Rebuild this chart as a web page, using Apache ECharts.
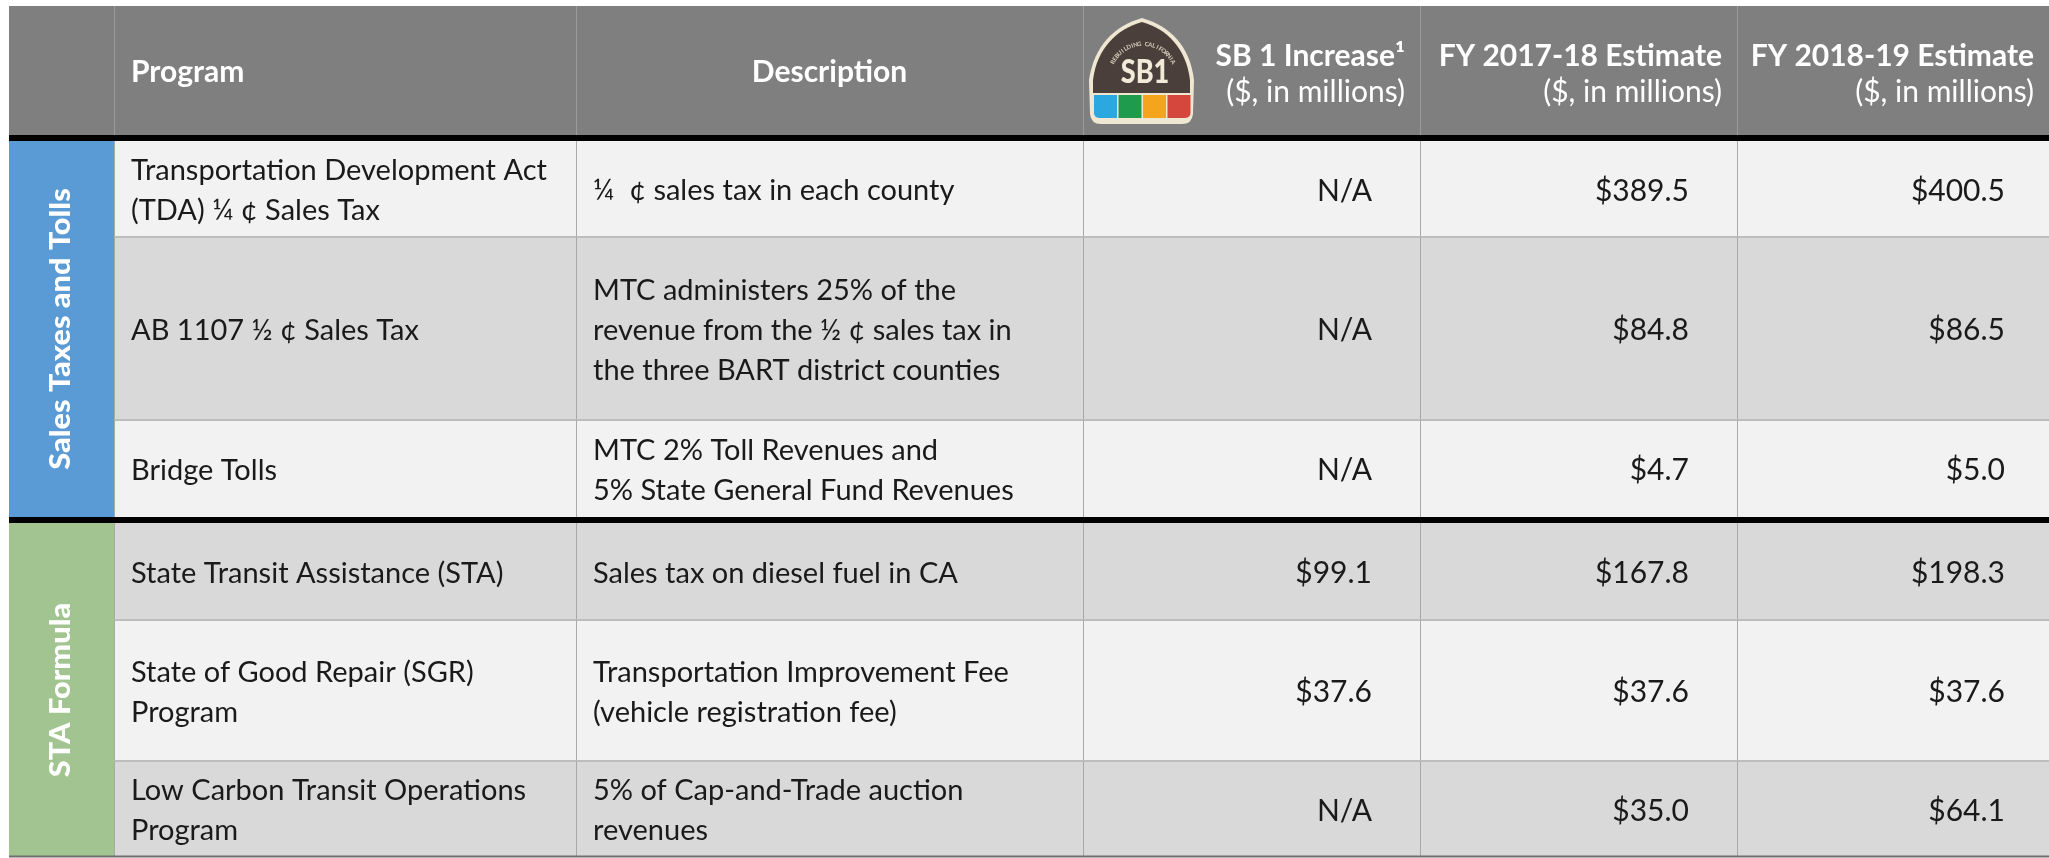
<!DOCTYPE html>
<html>
<head>
<meta charset="UTF-8">
<title>Transit funding programs</title>
<script src="https://cdn.jsdelivr.net/npm/echarts@6.0.0/dist/echarts.min.js"></script>
<style>
  html, body { margin: 0; padding: 0; background: #fff; }
  #table { width: 2049px; height: 858px; }
</style>
</head>
<body>
<div id="table"></div>
<script>
// table contents
var headers = ['', 'Program', 'Description', 'SB 1 Increase\u00b9', 'FY 2017-18 Estimate', 'FY 2018-19 Estimate'];
var headerUnits = ['', '', '', '($, in millions)', '($, in millions)', '($, in millions)'];
var groups = ['Sales Taxes and Tolls', 'STA Formula'];
var rowGroup = [0, 0, 0, 1, 1, 1];
var programs = [
  'Transportation Development Act\n(TDA) \u00bc \u00a2 Sales Tax',
  'AB 1107 \u00bd \u00a2 Sales Tax',
  'Bridge Tolls',
  'State Transit Assistance (STA)',
  'State of Good Repair (SGR)\nProgram',
  'Low Carbon Transit Operations\nProgram'
];
var descriptions = [
  '\u00bc  \u00a2 sales tax in each county',
  'MTC administers 25% of the\nrevenue from the \u00bd \u00a2 sales tax in\nthe three BART district counties',
  'MTC 2% Toll Revenues and\n5% State General Fund Revenues',
  'Sales tax on diesel fuel in CA',
  'Transportation Improvement Fee\n(vehicle registration fee)',
  '5% of Cap-and-Trade auction\nrevenues'
];
var sb1Increase = [null, null, null, 99.1, 37.6, null];
var fy1718 = [389.5, 84.8, 4.7, 167.8, 37.6, 35.0];
var fy1819 = [400.5, 86.5, 5.0, 198.3, 37.6, 64.1];

// layout, in pixels of the 2049 x 858 page
var colEdges = [9, 114, 576, 1083, 1420, 1737, 2049];
var headTop = 6, headBottom = 135;
var rowTop = [141, 237, 420, 523, 620, 761];
var rowBottom = [237, 420, 517, 620, 761, 857];
var valueRightPad = [0, 0, 0, 48, 48, 44];
var groupColors = ['#5b9bd5', '#a1c490'];
var rowFill = ['#f2f2f2', '#d9d9d9'];
var FONT = 'Lato, "Noto Sans", sans-serif';

function money(v) {
  return v == null ? 'N/A' : '$' + v.toFixed(1);
}

var chart = echarts.init(document.getElementById('table'));

function box(api, x0, y0, x1, y1) {
  var a = api.coord([x0, y0]);
  var b = api.coord([x1, y1]);
  return { x: a[0], y: a[1], width: b[0] - a[0], height: b[1] - a[1] };
}

function logo(x, y) {
  // SB1 shield drawn in the header cell
  var sq = ['#2aa8df', '#1e9b4c', '#f5a41d', '#d5473d'];
  var kids = [
    { type: 'path', shape: { pathData: 'M54 0C82 8 102 28 106 62L105 96Q104 106 94 106L13 106Q3 106 2 96L1 62C6 28 26 8 54 0Z' },
      style: { fill: '#efe7d2' } },
    { type: 'path', shape: { pathData: 'M54 4C79 11 98 30 102 62L102 75L5 75L5 62C9 30 29 11 54 4Z' },
      style: { fill: '#4a3f3a' } },
    { type: 'text', x: 57, y: 54, scaleX: 0.82,
      style: { text: 'SB1', x: 0, y: 0, align: 'center', verticalAlign: 'middle',
        fontFamily: FONT, fontWeight: 900, fontSize: 33, fill: '#f1ead8' } }
  ];
  var word = 'REBUILDING CALIFORNIA';
  var cx = 55, cy = 60, R = 34;
  for (var k = 0; k < word.length; k++) {
    var th = (-62 + 124 * k / (word.length - 1)) * Math.PI / 180;
    kids.push({ type: 'text', x: cx + R * Math.sin(th), y: cy - R * Math.cos(th), rotation: -th,
      style: { text: word[k], x: 0, y: 0, align: 'center', verticalAlign: 'middle',
        fontFamily: FONT, fontWeight: 'bold', fontSize: 6, fill: '#d9d0bd' } });
  }
  for (var i = 0; i < 4; i++) {
    kids.push({ type: 'rect', shape: { x: 6 + i * 24.5, y: 77, width: 23, height: 23,
      r: i == 0 ? [0, 0, 0, 5] : (i == 3 ? [0, 0, 5, 0] : 0) },
      style: { fill: sq[i] } });
  }
  return { type: 'group', x: x, y: y, children: kids };
}

function renderHeader(params, api) {
  var c = api.value(0);
  var r = box(api, colEdges[c], headTop, colEdges[c + 1], headBottom);
  var kids = [{ type: 'rect', shape: r, style: { fill: '#7f7f7f' } }];
  if (c > 0) {
    kids.push({ type: 'line', shape: { x1: r.x + 0.5, y1: r.y, x2: r.x + 0.5, y2: r.y + r.height },
      style: { stroke: '#9b9b9b', lineWidth: 1 } });
  }
  var base = { fontFamily: FONT, fill: '#ffffff', verticalAlign: 'middle' };
  if (c == 1) {
    kids.push({ type: 'text', style: Object.assign({ text: headers[c], x: r.x + 17, y: r.y + 66, align: 'left',
      fontSize: 30, fontWeight: 'bold' }, base) });
  } else if (c == 2) {
    kids.push({ type: 'text', style: Object.assign({ text: headers[c], x: r.x + r.width / 2, y: r.y + 66, align: 'center',
      fontSize: 30, fontWeight: 'bold' }, base) });
  } else if (c >= 3) {
    var rx = r.x + r.width - 15;
    kids.push({ type: 'text', style: Object.assign({ text: headers[c], x: rx, y: r.y + 50, align: 'right',
      fontSize: 30, fontWeight: 'bold' }, base) });
    kids.push({ type: 'text', style: Object.assign({ text: headerUnits[c], x: rx, y: r.y + 86, align: 'right',
      fontSize: 30 }, base) });
    if (c == 3) kids.push(logo(r.x + 5, r.y + 12));
  }
  return { type: 'group', children: kids };
}

function renderRow(params, api) {
  var i = api.value(0);
  var kids = [];
  var texts = [null, programs[i], descriptions[i], money(sb1Increase[i]), money(fy1718[i]), money(fy1819[i])];
  for (var c = 1; c < 6; c++) {
    var r = box(api, colEdges[c], rowTop[i], colEdges[c + 1], rowBottom[i]);
    kids.push({ type: 'rect', shape: r, style: { fill: rowFill[i % 2] } });
    var left = c <= 2;
    kids.push({ type: 'text', style: {
      text: texts[c],
      x: left ? r.x + 17 : r.x + r.width - valueRightPad[c],
      y: r.y + r.height / 2 + 2,
      align: left ? 'left' : 'right', verticalAlign: 'middle',
      fontFamily: FONT, fontSize: left ? 29 : 30, lineHeight: 40, fill: '#1a1a1a'
    } });
  }
  return { type: 'group', children: kids };
}

function renderGroup(params, api) {
  var g = api.value(0);
  var first = rowGroup.indexOf(g), last = rowGroup.lastIndexOf(g);
  var r = box(api, colEdges[0], rowTop[first], colEdges[1], rowBottom[last]);
  return { type: 'group', children: [
    { type: 'rect', shape: r, style: { fill: groupColors[g] } },
    { type: 'text', x: r.x + r.width / 2 - 1, y: r.y + r.height / 2, rotation: Math.PI / 2, scaleX: 1.06,
      style: { text: groups[g], x: 0, y: 0, align: 'center', verticalAlign: 'middle',
        fontFamily: FONT, fontWeight: 900, fontSize: 29, fill: '#ffffff' } }
  ] };
}

function renderLines(params, api) {
  var i = api.value(0);
  var kids = [];
  for (var c = 1; c < 6; c++) {
    var a = api.coord([colEdges[c], rowTop[i]]);
    var b = api.coord([colEdges[c], rowBottom[i]]);
    kids.push({ type: 'line', shape: { x1: a[0] + 0.5, y1: a[1], x2: b[0] + 0.5, y2: b[1] },
      style: { stroke: '#a9a9a9', lineWidth: 1 } });
  }
  var L = api.coord([colEdges[0], 0])[0], R = api.coord([colEdges[6], 0])[0];
  if (i == 0 || rowGroup[i] != rowGroup[i - 1]) {
    var t = api.coord([0, rowTop[i]])[1];
    kids.push({ type: 'line', shape: { x1: L, y1: t - 3, x2: R, y2: t - 3 }, style: { stroke: '#000000', lineWidth: 6 } });
  }
  var y = api.coord([0, rowBottom[i]])[1];
  if (i < rowGroup.length - 1 && rowGroup[i] == rowGroup[i + 1]) {
    var l = api.coord([colEdges[1], 0])[0];
    kids.push({ type: 'line', shape: { x1: l, y1: y, x2: R, y2: y }, style: { stroke: '#bdbdbd', lineWidth: 2 } });
  }
  if (i == rowGroup.length - 1) {
    kids.push({ type: 'line', shape: { x1: L, y1: y - 0.5, x2: R, y2: y - 0.5 }, style: { stroke: '#6f6f6f', lineWidth: 2 } });
  }
  return { type: 'group', children: kids };
}

var option = {
  animation: false,
  grid: { left: 0, right: 0, top: 0, bottom: 0 },
  xAxis: { type: 'value', min: 0, max: 2049, show: false },
  yAxis: { type: 'value', min: 0, max: 858, inverse: true, show: false },
  series: [
    { type: 'custom', name: 'header', silent: true, z: 2, renderItem: renderHeader,
      data: headers.map(function (h, i) { return [i, 0]; }) },
    { type: 'custom', name: 'rows', silent: true, z: 2, renderItem: renderRow,
      data: programs.map(function (p, i) { return [i, 0]; }) },
    { type: 'custom', name: 'groups', silent: true, z: 2, renderItem: renderGroup,
      data: groups.map(function (g, i) { return [i, 0]; }) },
    { type: 'custom', name: 'lines', silent: true, z: 4, renderItem: renderLines,
      data: programs.map(function (p, i) { return [i, 0]; }) }
  ]
};
chart.setOption(option);
</script>
</body>
</html>
